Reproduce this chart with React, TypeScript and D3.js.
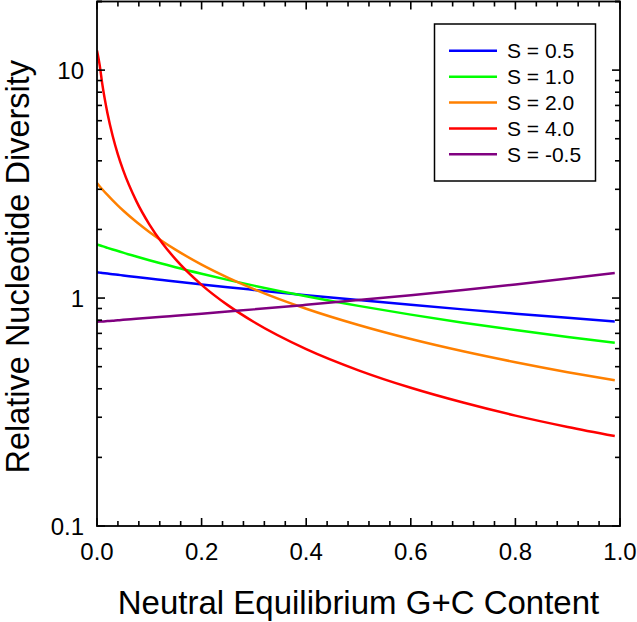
import React from "react";
import * as d3 from "d3";

const gcContent = [0, 0.005, 0.01, 0.02, 0.03, 0.04, 0.05, 0.075, 0.1, 0.125, 0.15, 0.2, 0.25, 0.3, 0.4, 0.5, 0.6, 0.7, 0.8, 0.9, 0.99];

const s05 = [1.297, 1.293, 1.289, 1.281, 1.273, 1.265, 1.257, 1.237, 1.218, 1.200, 1.182, 1.148, 1.116, 1.086, 1.030, 0.980, 0.934, 0.892, 0.854, 0.819, 0.790];
const s10 = [1.718, 1.704, 1.689, 1.661, 1.634, 1.608, 1.582, 1.522, 1.466, 1.415, 1.366, 1.279, 1.202, 1.134, 1.018, 0.924, 0.846, 0.780, 0.724, 0.675, 0.636];
const s20 = [3.194, 3.096, 3.003, 2.833, 2.681, 2.544, 2.421, 2.160, 1.949, 1.776, 1.631, 1.402, 1.230, 1.095, 0.898, 0.762, 0.661, 0.584, 0.523, 0.473, 0.436];
const s40 = [12.2, 10.57, 8.72, 6.47, 5.14, 4.26, 3.64, 2.67, 2.107, 1.740, 1.482, 1.143, 0.931, 0.785, 0.597, 0.482, 0.404, 0.348, 0.305, 0.272, 0.248];
const sNeg05 = [0.787, 0.789, 0.790, 0.793, 0.796, 0.800, 0.803, 0.811, 0.819, 0.828, 0.836, 0.854, 0.873, 0.892, 0.934, 0.980, 1.030, 1.086, 1.148, 1.218, 1.289];

const seriesLabels = ["S = 0.5", "S = 1.0", "S = 2.0", "S = 4.0", "S = -0.5"];
const seriesColors = ["#0000ff", "#00ff00", "#ff8000", "#ff0000", "#800080"];
const seriesValues = [s05, s10, s20, s40, sNeg05];

const xMajorTicks = [0, 0.2, 0.4, 0.6, 0.8, 1.0];
const xTickLabels = ["0.0", "0.2", "0.4", "0.6", "0.8", "1.0"];
const yMajorTicks = [0.1, 1, 10];
const yTickLabels = ["0.1", "1", "10"];

const W = 637;
const H = 622;
const L = 97;
const R = 620;
const T = 1.5;
const B = 526;

export default function App() {
  const x = d3.scaleLinear().domain([0, 1]).range([L, R]);
  const y = d3.scaleLog().domain([0.1, 20]).range([B, T]);

  const xMinor = d3.range(0, 51).map((i) => i * 0.04).filter((v) => v <= 1.0001);
  const yMinor: number[] = [];
  [0.1, 1, 10].forEach((dec) => {
    for (let k = 2; k <= 9; k++) {
      const v = dec * k;
      if (v <= 20) yMinor.push(v);
    }
  });
  yMinor.push(20);

  const line = d3
    .line<[number, number]>()
    .x((d) => x(d[0]))
    .y((d) => y(d[1]))
    .curve(d3.curveMonotoneX);

  const font = "'Liberation Sans', Arial, sans-serif";
  const isMajorX = (v: number) => xMajorTicks.some((m) => Math.abs(m - v) < 1e-6);

  const legendRows = [50.7, 76.7, 102.6, 128.4, 154.3];

  return (
    <svg
      width={W}
      height={H}
      style={{ position: "absolute", left: 0, top: 0, background: "#fff" }}
      fontFamily={font}
    >
      <rect x={0} y={0} width={W} height={H} fill="#fff" />
      <defs>
        <clipPath id="plotClip">
          <rect x={L} y={T} width={R - L} height={B - T} />
        </clipPath>
      </defs>

      {/* curves */}
      <g clipPath="url(#plotClip)">
        {seriesValues.map((vals, i) => (
          <path
            key={i}
            d={line(gcContent.map((g, j) => [g, vals[j]] as [number, number])) || ""}
            fill="none"
            stroke={seriesColors[i]}
            strokeWidth={2.5}
          />
        ))}
      </g>

      {/* x ticks bottom and top */}
      {xMinor.map((v, i) => {
        const len = isMajorX(v) ? 8 : 5;
        return (
          <g key={"xt" + i} stroke="#000" strokeWidth={1.6}>
            <line x1={x(v)} x2={x(v)} y1={B} y2={B - len} />
            <line x1={x(v)} x2={x(v)} y1={T} y2={T + len} />
          </g>
        );
      })}
      {/* y ticks left and right */}
      {yMinor.concat(yMajorTicks).map((v, i) => {
        const major = yMajorTicks.includes(v);
        const len = major ? 8 : 5;
        return (
          <g key={"yt" + i} stroke="#000" strokeWidth={1.6}>
            <line x1={L} x2={L + len} y1={y(v)} y2={y(v)} />
            <line x1={R} x2={R - len} y1={y(v)} y2={y(v)} />
          </g>
        );
      })}

      {/* frame */}
      <rect x={L} y={T} width={R - L} height={B - T} fill="none" stroke="#000" strokeWidth={1.8} />

      {/* tick labels */}
      {xMajorTicks.map((v, i) => (
        <text key={"xl" + i} x={x(v)} y={560} fontSize={24} textAnchor="middle" fill="#000">
          {xTickLabels[i]}
        </text>
      ))}
      {yMajorTicks.map((v, i) => (
        <text key={"yl" + i} x={84} y={y(v) + 8.5} fontSize={24} textAnchor="end" fill="#000">
          {yTickLabels[i]}
        </text>
      ))}

      {/* axis titles */}
      <text x={(L + R) / 2} y={614} fontSize={33} textAnchor="middle" fill="#000">
        Neutral Equilibrium G+C Content
      </text>
      <text
        transform={`translate(29, ${(T + B) / 2 + 3}) rotate(-90)`}
        fontSize={32.5}
        textAnchor="middle"
        fill="#000"
      >
        Relative Nucleotide Diversity
      </text>

      {/* legend */}
      <rect x={434.5} y={24} width={161} height={157} fill="#fff" stroke="#000" strokeWidth={1.5} />
      {seriesLabels.map((lab, i) => (
        <g key={"lg" + i}>
          <line x1={449} x2={497} y1={legendRows[i]} y2={legendRows[i]} stroke={seriesColors[i]} strokeWidth={2.5} />
          <text x={507} y={legendRows[i] + 7.5} fontSize={21} fill="#000">
            {lab}
          </text>
        </g>
      ))}
    </svg>
  );
}
